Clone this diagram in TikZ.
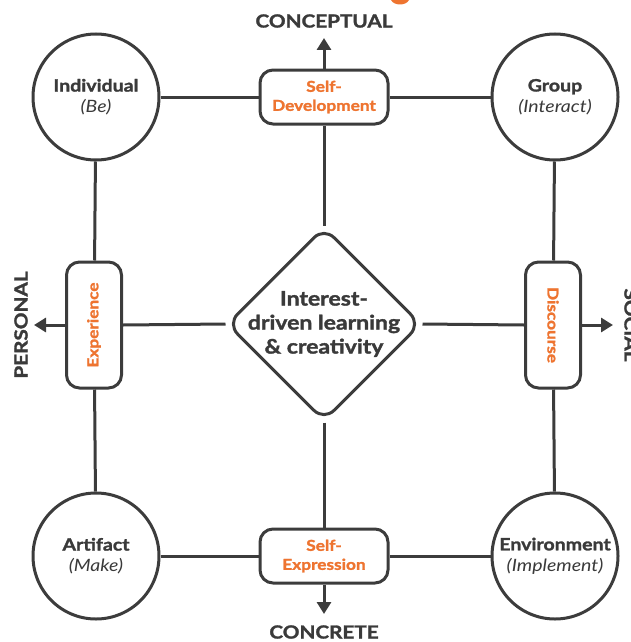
\documentclass[tikz,border=0pt]{standalone}
\usepackage{fontspec}
\setmainfont{Lato}[FakeStretch=1.15, BoldFeatures={FakeBold=1.6}]
\usetikzlibrary{shapes.geometric,arrows.meta}
\pgfdeclarelayer{background}
\pgfsetlayers{background,main}
\definecolor{lgray}{HTML}{3C3C3C}
\definecolor{tgray}{HTML}{3A3A3A}
\definecolor{orng}{HTML}{EE7430}
\tikzset{
  conn/.style={draw=lgray, line width=3pt},
  axisarrow/.style={draw=lgray, line width=3pt, -{Triangle[width=14pt,length=12pt]}},
  circ/.style={circle, draw=lgray, line width=3pt, fill=white, minimum size=126pt, inner sep=0pt, align=center, text=tgray, font=\fontsize{17}{21}\selectfont},
  hbox/.style={rectangle, rounded corners=13pt, draw=lgray, line width=3pt, fill=white, minimum width=128pt, minimum height=54pt, inner sep=0pt, align=center, text=orng, font=\bfseries\fontsize{15}{19}\selectfont},
  vbox/.style={rectangle, rounded corners=13pt, draw=lgray, line width=3pt, fill=white, minimum width=55pt, minimum height=126pt, inner sep=0pt, align=center, text=orng, font=\bfseries\fontsize{15}{19}\selectfont},
  axislabel/.style={text=tgray, font=\bfseries\fontsize{18}{20}\selectfont, inner sep=0pt},
}
\begin{document}
\begin{tikzpicture}[x=1pt,y=-1pt]
\useasboundingbox (0,0) rectangle (631,642);
% cut-off title descender
\fill[orng] (391,0) .. controls (394,6) and (406,6) .. (409,0) -- cycle;

\node[circ] (ind) at (96,97) {\bfseries Individual\\\itshape (Be)};
\node[circ] (grp) at (555,97) {\bfseries Group\\\itshape (Interact)};
\node[circ] (art) at (96,556) {\bfseries Artifact\\\itshape (Make)};
\node[circ] (env) at (555,556) {\bfseries Environment\\\itshape (Implement)};

\node[hbox] (sdev) at (324,97) {Self-\\Development};
\node[hbox] (sexp) at (324,556) {Self-\\Expression};
\node[vbox] (expe) at (94,325) {\rotatebox{90}{Experience}};
\node[vbox] (disc) at (553,325) {\rotatebox{-90}{Discourse}};

\node[diamond, draw=lgray, line width=3pt, fill=white, rounded corners=14pt, minimum size=194pt, inner sep=0pt] (dia) at (324,324) {};
\node[align=center, text=tgray, font=\bfseries\fontsize{20}{24}\selectfont] (diat) at (324,324) {Interest-\\driven learning\\\&\ creativity};

\node[axislabel] (concept) at (324,21) {CONCEPTUAL};
\node[axislabel] (concr) at (324,632) {CONCRETE};
\node[axislabel, rotate=90] (pers) at (21,325) {PERSONAL};
\node[axislabel, rotate=-90] (soc) at (631,325) {SOCIAL};

\coordinate (tipN) at (324,38);
\coordinate (tipS) at (324,614);
\coordinate (tipW) at (34,325);
\coordinate (tipE) at (613,325);

\begin{pgfonlayer}{background}
\draw[conn] (ind) -- (sdev);
\draw[conn] (sdev) -- (grp);
\draw[conn] (art) -- (sexp);
\draw[conn] (sexp) -- (env);
\draw[conn] (ind) -- (expe);
\draw[conn] (expe) -- (art);
\draw[conn] (grp) -- (disc);
\draw[conn] (disc) -- (env);
\draw[conn] (sdev.south) -- (dia.north);
\draw[conn] (dia.south) -- (sexp.north);
\draw[conn] (expe.east) -- (dia.west);
\draw[conn] (dia.east) -- (disc.west);
\end{pgfonlayer}
\draw[axisarrow] (sdev.north) -- (tipN);
\draw[axisarrow] (sexp.south) -- (tipS);
\draw[axisarrow] (expe.west) -- (tipW);
\draw[axisarrow] (disc.east) -- (tipE);
\end{tikzpicture}
\end{document}
